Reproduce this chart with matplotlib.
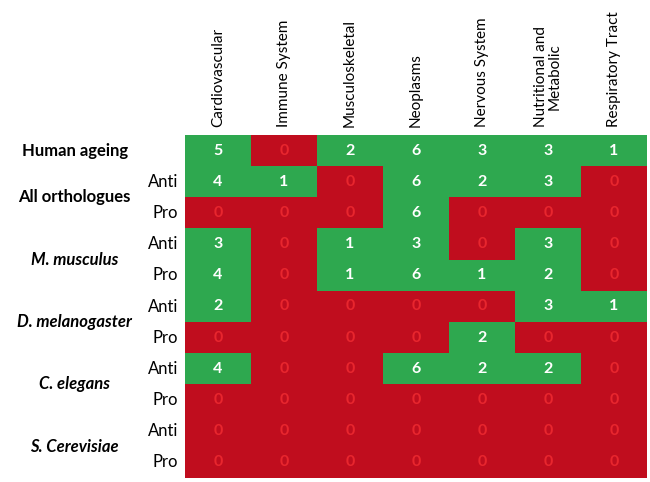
import matplotlib.pyplot as plt
import numpy as np
from matplotlib.colors import ListedColormap

categories = ["Cardiovascular", "Immune System", "Musculoskeletal", "Neoplasms",
              "Nervous System", "Nutritional and\nMetabolic", "Respiratory Tract"]
row_labels = ["", "Anti", "Pro", "Anti", "Pro", "Anti", "Pro", "Anti", "Pro", "Anti", "Pro"]
groups = ["Human ageing", "All orthologues", "M. musculus", "D. melanogaster",
          "C. elegans", "S. Cerevisiae"]
group_rows = [0, 1.5, 3.5, 5.5, 7.5, 9.5]
group_italic = [False, False, True, True, True, True]

values = np.array([
    [5, 0, 2, 6, 3, 3, 1],
    [4, 1, 0, 6, 2, 3, 0],
    [0, 0, 0, 6, 0, 0, 0],
    [3, 0, 1, 3, 0, 3, 0],
    [4, 0, 1, 6, 1, 2, 0],
    [2, 0, 0, 0, 0, 3, 1],
    [0, 0, 0, 0, 2, 0, 0],
    [4, 0, 0, 6, 2, 2, 0],
    [0, 0, 0, 0, 0, 0, 0],
    [0, 0, 0, 0, 0, 0, 0],
    [0, 0, 0, 0, 0, 0, 0],
])

plt.rcParams["font.family"] = ["Lato", "DejaVu Sans"]
green = "#2ea84f"
red = "#c00d1e"

fig = plt.figure(figsize=(6.5, 4.82), dpi=100)
ax = fig.add_axes([185 / 650, 4 / 482, 462 / 650, 343 / 482])
ax.imshow((values > 0).astype(int), cmap=ListedColormap([red, green]), aspect="auto",
          vmin=0, vmax=1, interpolation="nearest")

# cell numbers: white on green, red on red
for i in range(values.shape[0]):
    for j in range(values.shape[1]):
        v = values[i, j]
        col = "white" if v > 0 else "#e8262e"
        ax.text(j, i, str(v), ha="center", va="center", color=col,
                fontsize=11.5, fontweight="bold")

for j, c in enumerate(categories):
    ax.text(j, -0.75, c, rotation=90, ha="center", va="bottom", fontsize=11,
            multialignment="center", linespacing=1.0)

for i, r in enumerate(row_labels):
    ax.text(-0.6, i, r, ha="right", va="center", fontsize=12)

for g, y, it in zip(groups, group_rows, group_italic):
    ax.text(-2.17, y, g, ha="center", va="center", fontsize=12, fontweight="bold",
            style="italic" if it else "normal")

ax.set_xlim(-0.5, 6.5)
ax.set_ylim(10.5, -0.5)
ax.axis("off")

fig.savefig("out.png", dpi=100)
